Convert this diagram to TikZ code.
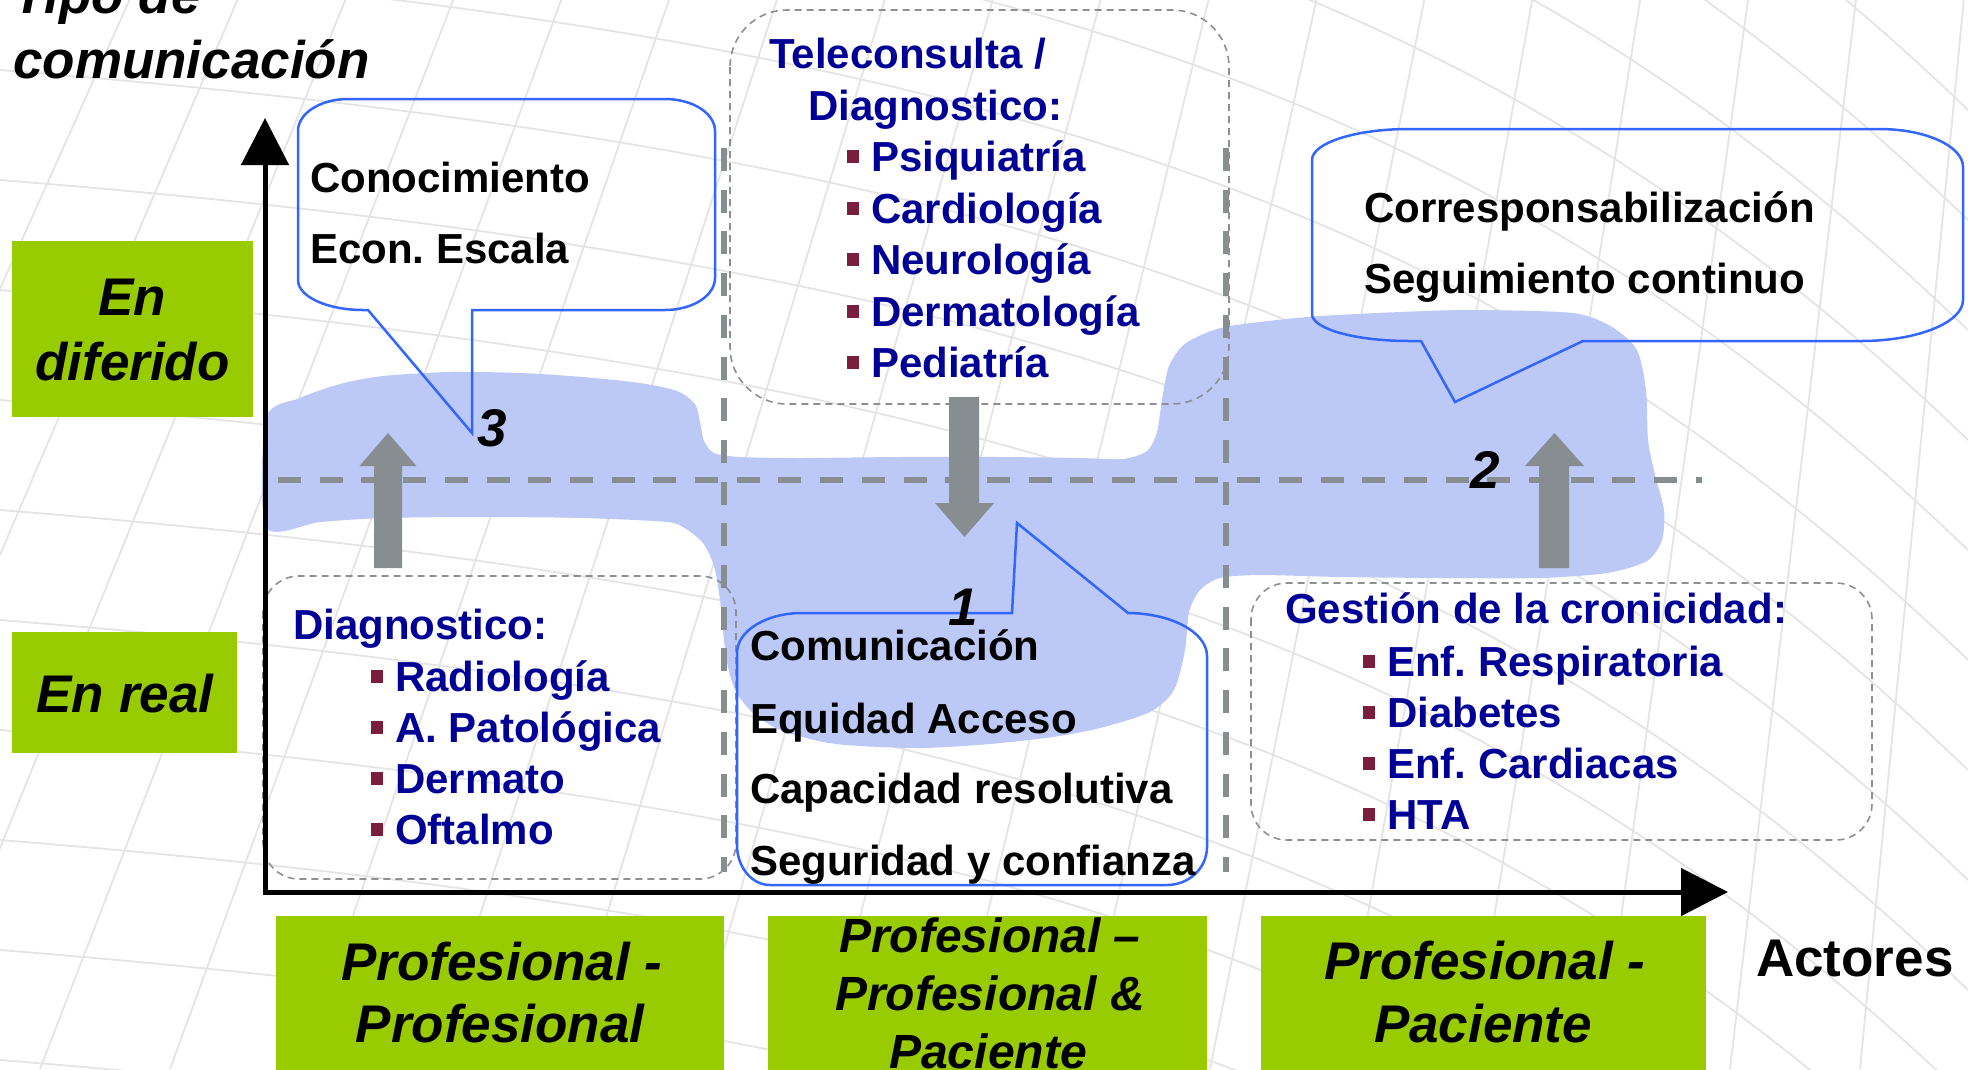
\documentclass[tikz,border=0pt]{standalone}
\usepackage{fontspec}
\setmainfont{Liberation Sans}
\usetikzlibrary{arrows.meta}
\definecolor{lime}{RGB}{153,204,0}
\definecolor{navy}{RGB}{0,0,150}
\definecolor{bulletc}{RGB}{122,30,62}
\definecolor{bandc}{RGB}{188,200,246}
\definecolor{callc}{RGB}{51,102,255}
\definecolor{arrowc}{RGB}{135,142,146}
\definecolor{boxc}{RGB}{140,144,147}
\definecolor{meshc}{RGB}{228,228,228}
\newcommand{\bul}{\textcolor{bulletc}{\rule[8.5pt]{12pt}{12.5pt}}\hspace{12pt}}
\frenchspacing
\begin{document}
\begin{tikzpicture}[x=1pt,y=-1pt,
  lbl/.style={inner sep=0pt, anchor=base west, font=\fontsize{42}{50}\selectfont\bfseries},
  bl/.style={lbl, text=navy},
  big/.style={inner sep=0pt, font=\fontsize{53}{65}\selectfont\bfseries\itshape},
  mid/.style={inner sep=0pt, font=\fontsize{48}{58}\selectfont\bfseries\itshape},
  greenbox/.style={fill=lime, inner sep=0pt},
  calloutline/.style={draw=callc, line width=2.5pt, line join=miter},
  dbox/.style={draw=boxc, line width=1.6pt, dash pattern=on 7pt off 5pt, rounded corners=#1},
  thickdash/.style={draw=arrowc, line width=5.5pt, dash pattern=on 23pt off 18.7pt},
  blockarrow/.style={fill=arrowc},
  axisline/.style={line width=5pt, -{Triangle[length=47pt,width=47pt]}},
  meshline/.style={draw=meshc, line width=1.8pt}
]
\useasboundingbox (0,0) rectangle (1968,1069);

% faint background mesh
\begin{scope}
\clip (0,0) rectangle (1968,1069);
\foreach \a in {-700,-590,...,1100}
  \path[meshline] (0,\a) .. controls (1000,\a+80) and (1500,\a+250) .. (1968,\a+700);
\foreach \x in {-350,-220,...,2000}
  \path[meshline] (\x,1069) -- ({\x+420-0.17*\x},0);
\end{scope}

% blue band
\fill[bandc] plot[smooth cycle, tension=0.45] coordinates {
 (266,418) (300,398) (340,384) (383,376) (450,372) (520,373) (583,377) (640,383)
 (677,391) (695,404) (700,422) (704,441) (714,453) (740,457) (800,458) (900,457)
 (1000,457) (1080,458) (1123,459) (1147,451) (1157,432) (1162,400) (1169,366)
 (1186,343) (1225,327) (1307,317) (1400,312) (1473,310) (1573,313) (1612,327)
 (1637,350) (1646,390) (1648,440) (1655,475) (1664,510) (1662,540) (1647,561)
 (1607,573) (1540,578) (1440,578) (1340,577) (1260,575) (1220,578) (1200,590)
 (1189,612) (1185,650) (1174,690) (1150,712) (1100,728) (1053,737) (990,744)
 (923,748) (860,746) (823,742) (780,730) (753,713) (735,690) (726,657) (720,600)
 (714,566) (703,543) (686,529) (667,522) (583,518) (480,517) (383,518) (320,522)
 (266,527)};
\fill[bandc] (1430,462) rectangle (1524,498);

% dashed guide lines
\path[thickdash] (278,480) -- (1702,480);
\path[thickdash] (724,148) -- (724,872);
\path[thickdash] (1226,148) -- (1226,872);

% dashed rounded boxes
\path[dbox=57pt] (730,10) rectangle (1229,404);
\path[dbox=36pt] (263,576) rectangle (736,879);
\path[dbox=36pt] (1251,583) rectangle (1872,840);

% callouts
\path[calloutline] (348,99) -- (665,99) .. controls (692.6,99) and (715,113.3) .. (715,131)
  -- (715,278) .. controls (715,295.7) and (692.6,310) .. (665,310) -- (472,310) -- (472,433)
  -- (368,310) -- (363,310) .. controls (327.1,310) and (298,296.6) .. (298,280)
  -- (298,131) .. controls (298,113.3) and (320.4,99) .. (348,99) -- cycle;
\path[calloutline] (802,613) -- (1012,613) -- (1017,523) -- (1128,613) -- (1127,613)
  .. controls (1171.2,613) and (1207,632.3) .. (1207,656) -- (1207,847)
  .. controls (1207,868) and (1189,885) .. (1167,885) -- (770,885)
  .. controls (751.8,885) and (737,867.1) .. (737,845) -- (737,653)
  .. controls (737,630.9) and (766.1,613) .. (802,613) -- cycle;
\path[calloutline] (1409,129) -- (1879,129) .. controls (1925.4,129) and (1963,146) .. (1963,167)
  -- (1963,300) .. controls (1963,322.6) and (1917.3,341) .. (1861,341) -- (1583,341)
  -- (1455,402) -- (1421,341) -- (1409,341) .. controls (1355.5,341) and (1312,328.9) .. (1312,314)
  -- (1312,160) .. controls (1312,142.9) and (1355.5,129) .. (1409,129) -- cycle;

% block arrows
\fill[blockarrow] (374,568) -- (374,466) -- (359.5,466) -- (388,433) -- (416.5,466) -- (402,466) -- (402,568) -- cycle;
\fill[blockarrow] (1539,568) -- (1539,466) -- (1525,466) -- (1554.5,433) -- (1584,466) -- (1569,466) -- (1569,568) -- cycle;
\fill[blockarrow] (949,397) -- (949,503) -- (935,503) -- (964.5,537) -- (994,503) -- (979,503) -- (979,397) -- cycle;

% axes
\coordinate (origin) at (265,892);
\coordinate (ytip) at (265,118);
\coordinate (xstart) at (262.5,892);
\coordinate (xtip) at (1728,892);
\draw[axisline] (origin) -- (ytip);
\draw[axisline] (xstart) -- (xtip);

% green boxes
\node (gdif) [greenbox, minimum width=241pt, minimum height=176pt] at (132.5,329) {};
\node (gdift1) [big, anchor=base] at (132.5,315) {En};
\node (gdift2) [big, anchor=base] at (132.5,380) {diferido};
\node (greal) [greenbox, minimum width=225pt, minimum height=121pt] at (124.5,692.5) {};
\node (grealt) [big, anchor=base] at (125,712) {En real};
\node (b1) [greenbox, minimum width=448pt, minimum height=160pt, anchor=north west] at (276,916) {};
\node (b1t1) [big, anchor=base] at (502,980) {Profesional -};
\node (b1t2) [big, anchor=base] at (500,1042) {Profesional};
\node (b2) [greenbox, minimum width=439pt, minimum height=160pt, anchor=north west] at (768,916) {};
\node (b2t1) [mid, anchor=base] at (990,952) {Profesional --};
\node (b2t2) [mid, anchor=base] at (990,1010) {Profesional \&};
\node (b2t3) [mid, anchor=base] at (988,1068) {Paciente};
\node (b3) [greenbox, minimum width=445pt, minimum height=160pt, anchor=north west] at (1261,916) {};
\node (b3t1) [big, anchor=base] at (1485,979) {Profesional -};
\node (b3t2) [big, anchor=base] at (1483,1042) {Paciente};

% titles
\node (tit1) [big, anchor=base west] at (13,13) {Tipo de};
\node (tit2) [big, anchor=base west] at (13,78) {comunicación};
\node (actores) [inner sep=0pt, anchor=base west, font=\fontsize{53}{65}\selectfont\bfseries] at (1756,976) {Actores};

% numbers
\node (n1) [big, anchor=base west] at (948,625) {1};
\node (n2) [big, anchor=base west] at (1470,488) {2};
\node (n3) [big, anchor=base west] at (477,446) {3};

% callout texts
\node (c3a) [lbl] at (310,192) {Conocimiento};
\node (c3b) [lbl] at (310,263) {Econ. Escala};
\node (c2a) [lbl] at (1364,222) {Corresponsabilización};
\node (c2b) [lbl] at (1364,293) {Seguimiento continuo};
\node (c1a) [lbl] at (750,660) {Comunicación};
\node (c1b) [lbl] at (750,733) {Equidad Acceso};
\node (c1c) [lbl] at (750,803) {Capacidad resolutiva};
\node (c1d) [lbl] at (750,875) {Seguridad y confianza};

% teleconsulta list
\node (tA) [bl] at (769,68) {Teleconsulta /};
\node (tB) [bl] at (808,120) {Diagnostico:};
\node (t1) [bl] at (847,171) {\bul Psiquiatría};
\node (t2) [bl] at (847,223) {\bul Cardiología};
\node (t3) [bl] at (847,274) {\bul Neurología};
\node (t4) [bl] at (847,326) {\bul Dermatología};
\node (t5) [bl] at (847,377) {\bul Pediatría};

% diagnostico list
\node (dA) [bl] at (293,639) {Diagnostico:};
\node (d1) [bl] at (371,691) {\bul Radiología};
\node (d2) [bl] at (371,742) {\bul A. Patológica};
\node (d3) [bl] at (371,793) {\bul Dermato};
\node (d4) [bl] at (371,844) {\bul Oftalmo};

% gestion list
\node (gA) [bl] at (1285,623) {Gestión de la cronicidad:};
\node (g1) [bl] at (1363,676) {\bul Enf. Respiratoria};
\node (g2) [bl] at (1363,727) {\bul Diabetes};
\node (g3) [bl] at (1363,778) {\bul Enf. Cardiacas};
\node (g4) [bl] at (1363,829) {\bul HTA};
\end{tikzpicture}
\end{document}
